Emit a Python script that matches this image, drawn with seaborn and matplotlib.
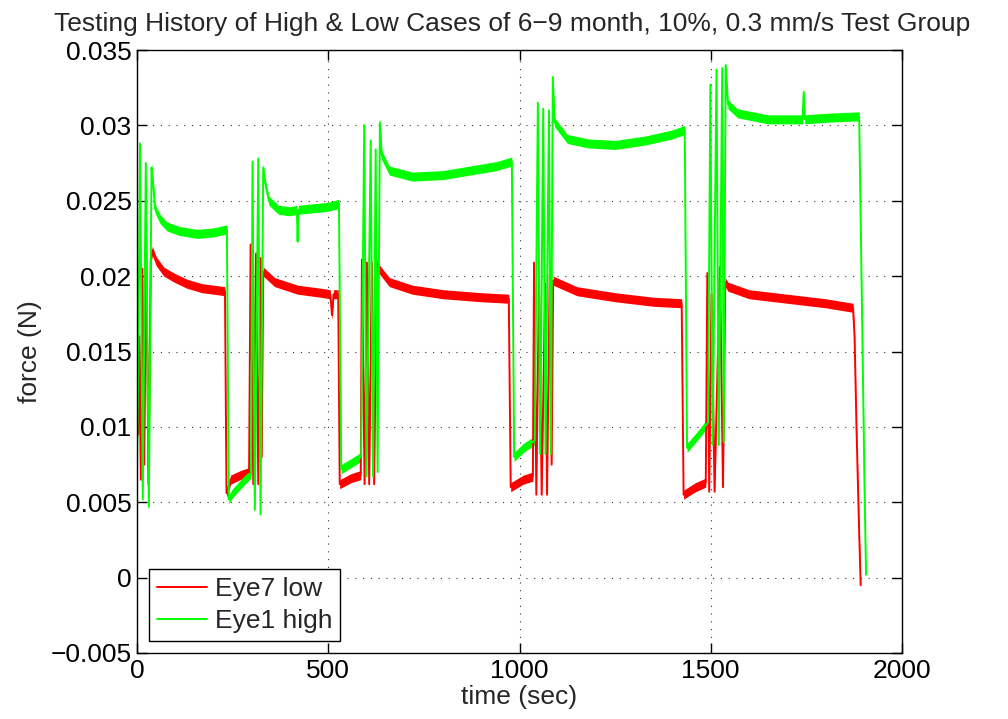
import numpy as np
import pandas as pd
import matplotlib
matplotlib.use("Agg")
import matplotlib.pyplot as plt
import seaborn as sns

# ---- data ----
low_t = [0, 3, 6, 10, 14, 19, 24, 30, 36, 40, 50, 70, 97, 130, 170, 200, 230,
         234, 245, 270, 293, 297, 304, 311, 317, 323, 326, 330, 360, 420, 480,
         505, 510, 514, 526, 530, 560, 585, 588, 595, 601, 607, 614, 620, 627,
         632, 660, 720, 800, 900, 972, 977, 1010, 1035, 1038, 1044, 1051, 1058,
         1067, 1072, 1079, 1084, 1088, 1150, 1250, 1350, 1424, 1429, 1460, 1487,
         1491, 1496, 1502, 1510, 1524, 1532, 1538, 1545, 1600, 1700, 1800, 1872,
         1876, 1881, 1888, 1892]
low_v = [0.0125, 0.0095, 0.0160, 0.0065, 0.0205, 0.0075, 0.0228, 0.0062, 0.0210,
         0.0217, 0.0210, 0.0203, 0.0199, 0.0195, 0.0192, 0.0191, 0.0190,
         0.0056, 0.0065, 0.0068, 0.0070, 0.0221, 0.0062, 0.0215, 0.0062, 0.0212,
         0.0080, 0.0203, 0.0196, 0.0191, 0.0189,
         0.0188, 0.0174, 0.0188, 0.0188, 0.0062, 0.0066, 0.0068, 0.0211, 0.0062,
         0.0209, 0.0062, 0.0209, 0.0062, 0.0209,
         0.0205, 0.0196, 0.0191, 0.0188, 0.0186, 0.0185, 0.0060, 0.0065, 0.0067,
         0.0209, 0.0055, 0.0196, 0.0055,
         0.0195, 0.0055, 0.0201, 0.0075, 0.0197, 0.0190, 0.0186, 0.0183, 0.0182,
         0.0055, 0.0060, 0.0063,
         0.0202, 0.0057, 0.0188, 0.0057, 0.0206, 0.0060, 0.0196, 0.0193, 0.0188,
         0.0185, 0.0182, 0.0179,
         0.0160, 0.0100, 0.0030, -0.0005]

high_t = [0, 3, 8, 15, 23, 31, 38, 42, 47, 60, 78, 110, 157, 200, 235, 240, 250,
          275, 298, 302, 308, 317, 323, 330, 335, 345, 370, 400, 418, 420, 422,
          460, 500, 528, 534, 560, 586, 594, 600, 611, 617, 624, 629, 635, 640,
          660, 720, 800, 870, 940, 980, 986, 1010, 1040, 1048, 1054, 1062, 1068,
          1077, 1082, 1087, 1092, 1125, 1180, 1250, 1330, 1400, 1432, 1438, 1465,
          1493, 1499, 1505, 1515, 1521, 1530, 1534, 1539, 1545, 1570, 1650, 1740,
          1743, 1746, 1800, 1888, 1893, 1897, 1902, 1906]
high_v = [0.0072, 0.0130, 0.0288, 0.0052, 0.0275, 0.0047, 0.0272, 0.0262, 0.0245,
          0.0238, 0.0233, 0.0230, 0.0228, 0.0229, 0.0231, 0.0052, 0.0056,
          0.0063, 0.0069, 0.0276, 0.0045, 0.0278, 0.0042, 0.0272, 0.0262, 0.0250,
          0.0244, 0.0243, 0.0244, 0.0223, 0.0244,
          0.0245, 0.0246, 0.0248, 0.0072, 0.0076, 0.0080, 0.0300, 0.0067, 0.0290,
          0.0067, 0.0284, 0.0070, 0.0302, 0.0280,
          0.0270, 0.0266, 0.0267, 0.0270, 0.0273, 0.0276, 0.0080, 0.0086, 0.0091,
          0.0315, 0.0082, 0.0311, 0.0082,
          0.0310, 0.0082, 0.0332, 0.0302, 0.0291, 0.0288, 0.0287, 0.0290, 0.0294,
          0.0297, 0.0086, 0.0094,
          0.0103, 0.0327, 0.0088, 0.0337, 0.0088, 0.0338, 0.0090, 0.0340, 0.0314,
          0.0308, 0.0304, 0.0304,
          0.0322, 0.0304, 0.0305, 0.0306, 0.0220, 0.0150, 0.0060, 0.0002]

series_names = ["Eye7 low", "Eye1 high"]
series_colors = ["#ff0000", "#00ff00"]
x_ticks = [0, 500, 1000, 1500, 2000]
y_ticks = [-0.005, 0, 0.005, 0.01, 0.015, 0.02, 0.025, 0.03, 0.035]
y_tick_labels = ["\u22120.005", "0", "0.005", "0.01", "0.015", "0.02", "0.025",
                 "0.03", "0.035"]
title = "Testing History of High & Low Cases of 6\u22129 month, 10%, 0.3 mm/s Test Group"

# ---- figure ----
sns.set_style("ticks")
plt.rcParams["font.family"] = ["Liberation Sans", "DejaVu Sans"]
FS = 19

fig = plt.figure(figsize=(10.08, 7.19), dpi=100)
ax = fig.add_axes([137 / 1008, 66 / 719, 765 / 1008, 603 / 719])

df = pd.concat([
    pd.DataFrame({"time": low_t, "force": low_v, "series": series_names[0]}),
    pd.DataFrame({"time": high_t, "force": high_v, "series": series_names[1]}),
], ignore_index=True)

palette = dict(zip(series_names, series_colors))
sns.lineplot(data=df, x="time", y="force", hue="series", hue_order=series_names,
             palette=palette, estimator=None, sort=False, linewidth=1.4, ax=ax)

# noise band around the traces (signal is noisy in the original)
band = 0.0003
for name, tt, vv in [(series_names[0], low_t, low_v), (series_names[1], high_t, high_v)]:
    tt = np.asarray(tt, float)
    vv = np.asarray(vv, float)
    ax.fill_between(tt, vv - band, vv + band, color=palette[name], lw=0, alpha=1)

ax.set_xlim(0, 2000)
ax.set_ylim(-0.005, 0.035)
ax.set_xticks(x_ticks)
ax.set_xticklabels([str(v) for v in x_ticks])
ax.set_yticks(y_ticks)
ax.set_yticklabels(y_tick_labels)

ax.tick_params(direction="in", length=7, width=1, top=True, right=True,
               labelsize=FS, colors="black", pad=4)
for s in ax.spines.values():
    s.set_visible(True)
    s.set_color("black")
    s.set_linewidth(1.0)

ax.grid(True, color="black", linestyle=(0, (1, 6)), linewidth=0.8, alpha=0.8)
ax.set_axisbelow(True)

ax.set_xlabel("time (sec)", fontsize=FS, labelpad=2)
ax.set_ylabel("force (N)", fontsize=FS, labelpad=6)
ax.set_title(title, fontsize=FS, pad=14, x=0.49)

handles, labels = ax.get_legend_handles_labels()
leg = ax.legend(handles[:2], labels[:2], loc="lower left", fontsize=FS,
                frameon=True, fancybox=False, edgecolor="black", framealpha=1,
                handlelength=1.9, handletextpad=0.3, borderaxespad=0.45,
                labelspacing=0.3, borderpad=0.3)
leg.get_frame().set_linewidth(1.0)
for h in leg.get_lines():
    h.set_linewidth(1.4)

fig.savefig("out.png", dpi=100, facecolor="white")
